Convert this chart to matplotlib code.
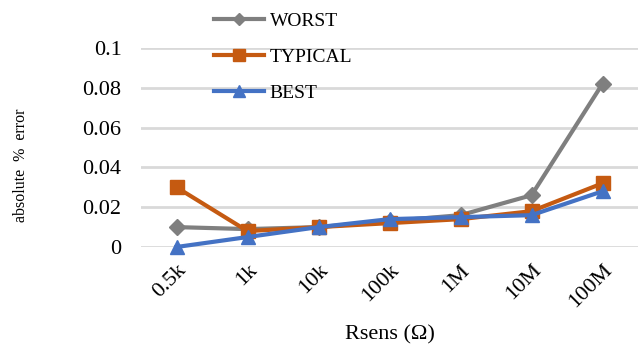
import matplotlib.pyplot as plt
import numpy as np

# data
categories = ["0.5k", "1k", "10k", "100k", "1M", "10M", "100M"]
worst = [0.010, 0.009, 0.010, 0.013, 0.016, 0.026, 0.082]
typical = [0.030, 0.008, 0.010, 0.012, 0.014, 0.018, 0.032]
best = [0.000, 0.005, 0.010, 0.014, 0.015, 0.016, 0.028]
y_ticks = [0, 0.02, 0.04, 0.06, 0.08, 0.1]
y_tick_labels = ["0", "0.02", "0.04", "0.06", "0.08", "0.1"]

plt.rcParams["font.family"] = ["Liberation Serif", "DejaVu Serif"]

fig = plt.figure(figsize=(6.43, 3.51), dpi=100)
ax = fig.add_axes([141 / 643, 1 - 247 / 351, 497 / 643, 199 / 351])

x = np.arange(len(categories))
ax.plot(x, worst, color="#7f7f7f", lw=3, marker="D", ms=8, label="WORST", zorder=3)
ax.plot(x, typical, color="#c55a11", lw=3, marker="s", ms=10, label="TYPICAL", zorder=4)
ax.plot(x, best, color="#4472c4", lw=3, marker="^", ms=10, label="BEST", zorder=5)

ax.set_xlim(-0.5, len(categories) - 0.5)
ax.set_ylim(0, 0.1)
ax.set_yticks(y_ticks)
ax.set_yticklabels(y_tick_labels, fontsize=16)
ax.set_xticks(x)
ax.set_xticklabels(categories, rotation=45, ha="right", rotation_mode="anchor", fontsize=16)
ax.tick_params(axis="both", length=0, pad=10)
ax.tick_params(axis="y", pad=14)
ax.grid(axis="y", color="#d9d9d9", lw=2)
ax.set_axisbelow(True)
for s in ax.spines.values():
    s.set_visible(False)
for ln in ax.lines:
    ln.set_clip_on(False)

fig.text(390 / 643, 1 - 335 / 351, "Rsens (Ω)", fontsize=16, ha="center", va="center")
fig.text(21 / 643, 1 - 165 / 351, "absolute  %  error", fontsize=11.5, rotation=90,
         ha="center", va="center")

leg = fig.legend(loc="upper left", bbox_to_anchor=(196 / 643, 1.015), frameon=False,
                 fontsize=14, handlelength=2.6, labelspacing=0.95, handletextpad=0.3,
                 markerscale=0.8)

plt.savefig("out.png", dpi=100)
